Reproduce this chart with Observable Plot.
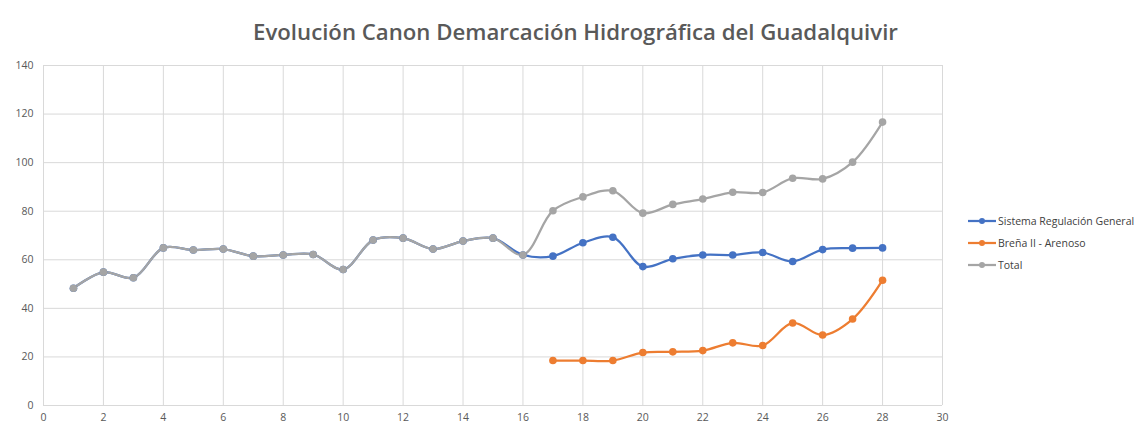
<!DOCTYPE html>
<html>
<head>
<meta charset="utf-8">
<script src="https://cdn.jsdelivr.net/npm/d3@7"></script>
<script src="https://cdn.jsdelivr.net/npm/@observablehq/plot@0.6"></script>
<style>
  body { margin: 0; background: #fff; font-family: "Open Sans", sans-serif; }
  #wrap { position: relative; width: 1135px; height: 432px; overflow: hidden; }
  #title { height: 48px; box-sizing: border-box; padding-top: 19px; text-align: center; padding-left: 16px;
    font-family: "Open Sans", sans-serif; font-weight: 600; font-size: 22.2px; line-height: 26px; color: #595959; }
  #legend { position: absolute; left: 968px; top: 210px; font-family: "Open Sans", sans-serif; font-size: 10.5px; color: #404040; }
  .item { display: flex; align-items: center; height: 22px; }
  .item svg { margin-right: 2px; }
</style>
</head>
<body>
<div id="wrap">
  <div id="title">Evolución Canon Demarcación Hidrográfica del Guadalquivir</div>
  <div id="chart"></div>
  <div id="legend"></div>
</div>
<script>
const seriesNames = ["Sistema Regulación General", "Breña II - Arenoso", "Total"];
const seriesColors = ["#4472C4", "#ED7D31", "#A5A5A5"];

const xSistema = [1,2,3,4,5,6,7,8,9,10,11,12,13,14,15,16,17,18,19,20,21,22,23,24,25,26,27,28];
const sistema = [48.3,54.9,52.6,64.9,64.0,64.4,61.5,62.0,62.2,56.0,68.1,68.9,64.4,67.7,68.9,62.0,61.5,67.0,69.3,57.2,60.4,62.0,62.0,63.0,59.3,64.2,64.8,64.9];

const xBrena = [17,18,19,20,21,22,23,24,25,26,27,28];
const brena = [18.5,18.5,18.5,21.8,22.1,22.6,25.8,24.7,34.0,29.0,35.6,51.6];

const xTotal = [1,2,3,4,5,6,7,8,9,10,11,12,13,14,15,16,17,18,19,20,21,22,23,24,25,26,27,28];
const total = [48.3,54.9,52.6,64.9,64.0,64.4,61.5,62.0,62.2,56.0,68.1,68.9,64.4,67.7,68.9,62.0,80.2,85.9,88.4,79.2,82.8,85.0,87.8,87.7,93.6,93.3,100.2,116.7];

const xTicks = [0,2,4,6,8,10,12,14,16,18,20,22,24,26,28,30];
const yTicks = [0,20,40,60,80,100,120,140];

const rows = [];
xSistema.forEach((x, i) => rows.push({serie: seriesNames[0], x, y: sistema[i]}));
xBrena.forEach((x, i) => rows.push({serie: seriesNames[1], x, y: brena[i]}));
xTotal.forEach((x, i) => rows.push({serie: seriesNames[2], x, y: total[i]}));

const chart = Plot.plot({
  width: 1135,
  height: 384,
  marginLeft: 43,
  marginRight: 193,
  marginTop: 17,
  marginBottom: 27,
  style: { fontFamily: "Open Sans, sans-serif", fontSize: "10.5px", color: "#595959", background: "#fff" },
  x: { domain: [0, 30], ticks: xTicks, tickSize: 0, tickPadding: 8, label: null },
  y: { domain: [0, 140], ticks: yTicks, tickSize: 0, tickPadding: 10, label: null },
  color: { domain: seriesNames, range: seriesColors },
  marks: [
    Plot.gridX(xTicks, { stroke: "#d9d9d9", strokeOpacity: 1, strokeWidth: 1 }),
    Plot.gridY(yTicks, { stroke: "#d9d9d9", strokeOpacity: 1, strokeWidth: 1 }),
    Plot.axisX({ ticks: xTicks, tickSize: 0, tickPadding: 8, fill: "#595959" }),
    Plot.axisY({ ticks: yTicks, tickSize: 0, tickPadding: 10, fill: "#595959" }),
    Plot.line(rows, { x: "x", y: "y", z: "serie", stroke: "serie", strokeWidth: 2.25, curve: "catmull-rom" }),
    Plot.dot(rows, { x: "x", y: "y", fill: "serie", r: 3.8 })
  ]
});
document.getElementById("chart").appendChild(chart);

const legend = document.getElementById("legend");
seriesNames.forEach((name, i) => {
  const d = document.createElement("div");
  d.className = "item";
  d.innerHTML = `<svg width="28" height="10"><line x1="0" y1="5" x2="28" y2="5" stroke="${seriesColors[i]}" stroke-width="2.25"/><circle cx="14" cy="5" r="3" fill="${seriesColors[i]}"/></svg><span>${name}</span>`;
  legend.appendChild(d);
});
</script>
</body>
</html>
